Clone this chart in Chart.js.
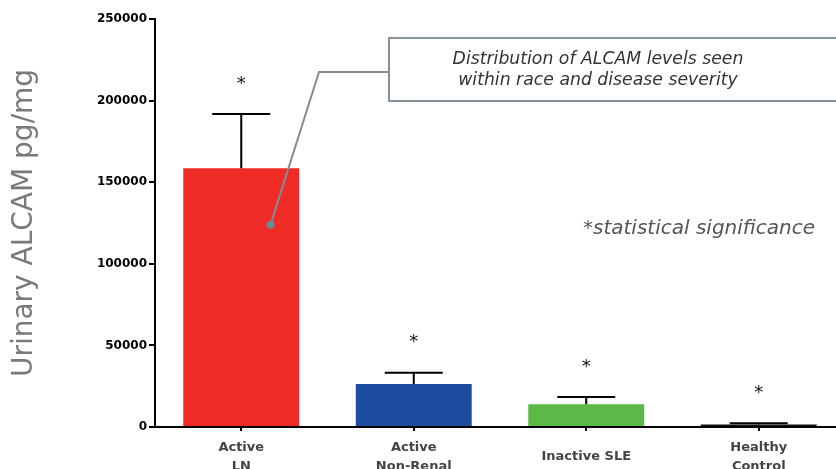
<!DOCTYPE html>
<html>
<head>
<meta charset="utf-8">
<script src="https://cdn.jsdelivr.net/npm/chart.js@4"></script>
<style>
  html, body { margin: 0; padding: 0; background: #fff; overflow: hidden; }
  #wrap { position: relative; width: 846px; height: 469px; }
</style>
</head>
<body>
<div id="wrap"><canvas id="c"></canvas></div>
<script>
const categories = [["Active", "LN"], ["Active", "Non-Renal"], "Inactive SLE", ["Healthy", "Control"]];
const meanValues = [158500, 26300, 14000, 1600];
const errorUpper = [191800, 33300, 18400, 2300];
const barColors = ["#ee2b25", "#1e4c9f", "#5ab947", "#111111"];
const yTicks = [0, 50000, 100000, 150000, 200000, 250000];
const calloutPoint = { index: 0.17, value: 124000 };

function fitText(ctx, text, style, family, targetWidth) {
  ctx.font = style + ' 20px ' + family;
  const w = ctx.measureText(text).width;
  const size = 20 * targetWidth / w;
  ctx.font = style + ' ' + size.toFixed(2) + 'px ' + family;
}

const overlay = {
  id: 'overlay',
  afterDatasetsDraw(chart) {
    const ctx = chart.ctx;
    const x = chart.scales.x, y = chart.scales.y;
    const meta = chart.getDatasetMeta(0);
    ctx.save();
    // error bars and asterisks
    meta.data.forEach((bar, i) => {
      const cx = bar.x;
      const top = y.getPixelForValue(meanValues[i]);
      const up = y.getPixelForValue(errorUpper[i]);
      const half = bar.width / 4;
      ctx.strokeStyle = '#000';
      ctx.lineWidth = 2;
      ctx.beginPath();
      ctx.moveTo(cx, top);
      ctx.lineTo(cx, up);
      ctx.moveTo(cx - half, up);
      ctx.lineTo(cx + half, up);
      ctx.stroke();
      ctx.fillStyle = '#111';
      ctx.font = '18px "DejaVu Sans"';
      ctx.textAlign = 'center';
      ctx.textBaseline = 'middle';
      ctx.fillText('*', cx, up - 30);
    });
    // callout box
    ctx.strokeStyle = '#87939b';
    ctx.lineWidth = 2;
    ctx.strokeRect(389, 38, 460, 63);
    ctx.fillStyle = '#333';
    ctx.textAlign = 'center';
    ctx.textBaseline = 'middle';
    fitText(ctx, 'Distribution of ALCAM levels seen', 'italic', '"DejaVu Sans"', 291);
    ctx.fillText('Distribution of ALCAM levels seen', 598, 60);
    ctx.fillText('within race and disease severity', 598, 81);
    // connector
    const px = x.getPixelForValue(0) + (x.getPixelForValue(1) - x.getPixelForValue(0)) * calloutPoint.index;
    const py = y.getPixelForValue(calloutPoint.value);
    ctx.strokeStyle = '#7f8e97';
    ctx.lineWidth = 2;
    ctx.beginPath();
    ctx.moveTo(px, py);
    ctx.lineTo(319, 72);
    ctx.lineTo(389, 72);
    ctx.stroke();
    ctx.fillStyle = '#5f8e98';
    ctx.beginPath();
    ctx.arc(px, py, 4, 0, Math.PI * 2);
    ctx.fill();
    // significance note
    ctx.fillStyle = '#555';
    ctx.textAlign = 'left';
    fitText(ctx, '*statistical significance', 'italic', '"DejaVu Sans"', 232);
    ctx.fillText('*statistical significance', 583, 229);
    ctx.restore();
  }
};

new Chart(document.getElementById('c'), {
  type: 'bar',
  data: {
    labels: categories,
    datasets: [{
      data: meanValues,
      backgroundColor: barColors,
      borderWidth: 0,
      categoryPercentage: 1,
      barPercentage: 0.672
    }]
  },
  options: {
    responsive: true,
    maintainAspectRatio: false,
    animation: false,
    layout: { padding: { top: 19, right: 1, left: 0, bottom: 0 } },
    plugins: { legend: { display: false }, tooltip: { enabled: false } },
    scales: {
      x: {
        afterFit(s) { s.height = 42; },
        grid: { display: true, drawOnChartArea: false, drawTicks: true, offset: false, tickLength: 4, color: '#000', lineWidth: 2 },
        border: { display: true, color: '#000', width: 2 },
        ticks: {
          color: '#444',
          font: { family: 'DejaVu Sans', weight: 'bold', size: 13, lineHeight: 1.4 },
          padding: 17,
          crossAlign: 'center',
          maxRotation: 0,
          autoSkip: false
        }
      },
      y: {
        min: 0,
        max: 250000,
        afterFit(s) { s.width = 155; },
        afterBuildTicks(s) { s.ticks = yTicks.map(v => ({ value: v })); },
        grid: { display: true, drawOnChartArea: false, drawTicks: true, tickLength: 6, color: '#000', lineWidth: 2 },
        border: { display: true, color: '#000', width: 2 },
        ticks: {
          color: '#000',
          font: { family: 'DejaVu Sans', weight: 'bold', size: 12 },
          padding: 2,
          callback: v => String(v)
        },
        title: {
          display: true,
          text: 'Urinary ALCAM pg/mg',
          color: '#7a7a7a',
          font: { family: 'DejaVu Sans', weight: 'normal', size: 28 },
          padding: { top: 8, bottom: 0 }
        }
      }
    }
  },
  plugins: [overlay]
});
</script>
</body>
</html>
